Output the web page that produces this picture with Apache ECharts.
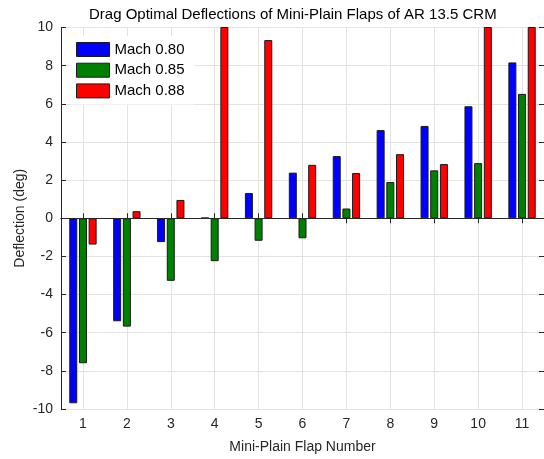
<!DOCTYPE html>
<html>
<head>
<meta charset="utf-8">
<script src="https://cdn.jsdelivr.net/npm/echarts@6/dist/echarts.min.js"></script>
<style>
  html, body { margin: 0; padding: 0; background: #fff; }
  #chart { width: 544px; height: 459px; }
</style>
</head>
<body>
<div id="chart"></div>
<script>
// Flap numbers along the span
const flaps = ['1', '2', '3', '4', '5', '6', '7', '8', '9', '10', '11'];

// Optimal deflections (deg) per Mach number
const mach080 = [-9.7, -5.4, -1.25, 0.02, 1.32, 2.39, 3.26, 4.62, 4.84, 5.87, 8.17];
const mach085 = [-7.6, -5.68, -3.28, -2.25, -1.18, -1.05, 0.51, 1.90, 2.51, 2.89, 6.52];
const mach088 = [-1.38, 0.37, 0.96, 12.0, 9.34, 2.80, 2.37, 3.36, 2.84, 12.0, 12.0];

const seriesNames = ['Mach 0.80', 'Mach 0.85', 'Mach 0.88'];
const seriesColors = ['#0000ff', '#008000', '#ff0000'];
const seriesData = [mach080, mach085, mach088];

// Y tick range
const yMin = -10, yMax = 10, yStep = 2;

const font = 'Liberation Sans, Arial, Helvetica, sans-serif';
const axisColor = '#262626';
const gridColor = '#e3e3e3';

const chart = echarts.init(document.getElementById('chart'), null, { renderer: 'canvas' });

const catAxisBase = {
  type: 'category',
  data: flaps,
  boundaryGap: true,
  axisLine: { show: true, lineStyle: { color: axisColor, width: 1 } },
  axisTick: { show: true, inside: true, length: 5, alignWithLabel: true, lineStyle: { color: axisColor } },
  splitLine: { show: false }
};

const valAxisBase = {
  type: 'value',
  min: yMin,
  max: yMax,
  interval: yStep,
  axisLine: { show: true, onZero: false, lineStyle: { color: axisColor, width: 1 } },
  axisTick: { show: true, inside: true, length: 5, lineStyle: { color: axisColor } },
};

chart.setOption({
  animation: false,
  backgroundColor: '#ffffff',
  textStyle: { fontFamily: font },
  title: {
    text: 'Drag Optimal Deflections of Mini-Plain Flaps of AR 13.5 CRM',
    left: 84,
    top: 2,
    textStyle: { fontFamily: font, fontSize: 15, fontWeight: 'normal', color: '#000' }
  },
  legend: {
    orient: 'vertical',
    left: 70,
    top: 36,
    padding: [6, 10, 6, 6],
    backgroundColor: '#ffffff',
    itemWidth: 33,
    itemHeight: 14,
    itemGap: 5.7,
    icon: 'rect',
    selectedMode: false,
    z: 10,
    textStyle: { fontFamily: font, fontSize: 15, color: '#000', lineHeight: 14 },
    data: seriesNames.map((n, i) => ({
      name: n,
      itemStyle: { color: seriesColors[i], borderColor: '#1a1a1a', borderWidth: 1 }
    }))
  },
  grid: { left: 61, top: 27.5, width: 484, height: 382, containLabel: false },
  xAxis: [
    Object.assign({}, catAxisBase, {
      position: 'bottom',
      axisLabel: { show: true, margin: 8, fontFamily: font, fontSize: 14, color: axisColor },
      name: 'Mini-Plain Flap Number',
      nameLocation: 'middle',
      nameGap: 31,
      nameMoveOverlap: false,
      nameTextStyle: { fontFamily: font, fontSize: 14, color: axisColor }
    }),
    Object.assign({}, catAxisBase, {
      position: 'top',
      axisLabel: { show: false }
    })
  ],
  yAxis: [
    Object.assign({}, valAxisBase, {
      position: 'left',
      axisLabel: { show: true, margin: 8, fontFamily: font, fontSize: 14, color: axisColor },
      splitLine: { show: true, lineStyle: { color: gridColor, width: 1 } },
      name: 'Deflection (deg)',
      nameLocation: 'middle',
      nameGap: 34,
      nameMoveOverlap: false,
      nameTextStyle: { fontFamily: font, fontSize: 14, color: axisColor }
    }),
    Object.assign({}, valAxisBase, {
      position: 'right',
      axisLabel: { show: false },
      splitLine: { show: false }
    })
  ],
  series: [{
    // vertical grid lines through each flap position, kept beneath the bars
    type: 'line',
    data: [],
    z: 0,
    markLine: {
      silent: true,
      z: 0,
      symbol: 'none',
      label: { show: false },
      lineStyle: { color: gridColor, width: 1, type: 'solid' },
      data: flaps.map(f => ({ xAxis: f }))
    }
  }].concat(seriesData.map((d, i) => ({
    name: seriesNames[i],
    type: 'bar',
    xAxisIndex: 0,
    yAxisIndex: 0,
    data: d,
    barWidth: 8,
    barGap: '21%',
    clip: true,
    z: 2,
    itemStyle: { color: seriesColors[i], borderColor: '#1a1a1a', borderWidth: 1 }
  }))).concat([{
    // zero baseline
    type: 'line',
    data: [],
    z: 3,
    markLine: {
      silent: true,
      z: 3,
      symbol: 'none',
      label: { show: false },
      lineStyle: { color: axisColor, width: 1, type: 'solid' },
      data: [{ yAxis: 0 }]
    }
  }])
});
</script>
</body>
</html>
